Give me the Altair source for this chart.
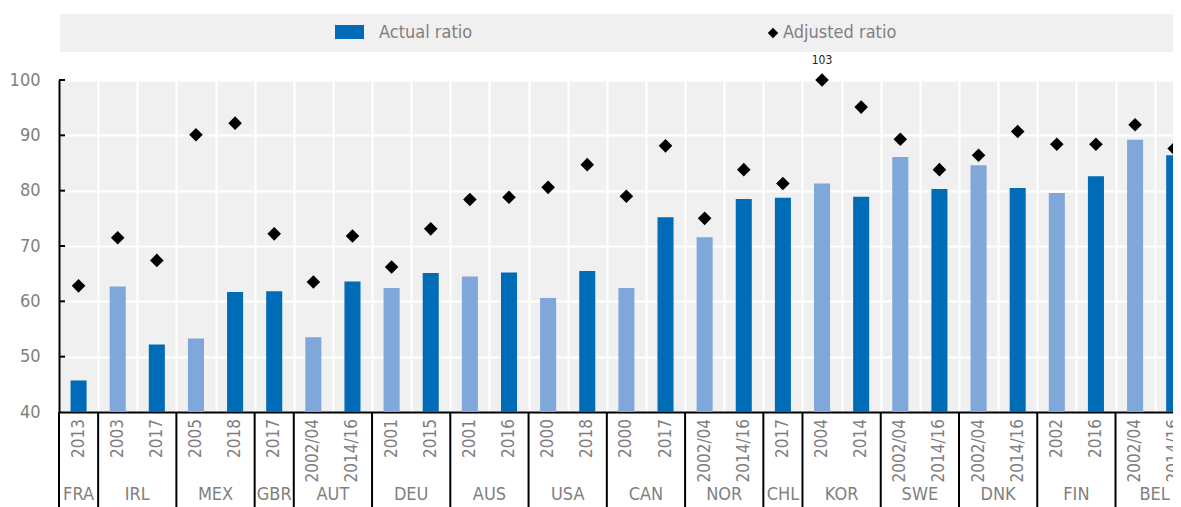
import altair as alt
import pandas as pd

# ---- data ----
countries = ["FRA", "IRL", "MEX", "GBR", "AUT", "DEU", "AUS", "USA",
             "CAN", "NOR", "CHL", "KOR", "SWE", "DNK", "FIN", "BEL"]
country_years = [
    ["2013"], ["2003", "2017"], ["2005", "2018"], ["2017"],
    ["2002/04", "2014/16"], ["2001", "2015"], ["2001", "2016"], ["2000", "2018"],
    ["2000", "2017"], ["2002/04", "2014/16"], ["2017"], ["2004", "2014"],
    ["2002/04", "2014/16"], ["2002/04", "2014/16"], ["2002", "2016"], ["2002/04", "2014/16"],
]
actual = [45.7, 62.7, 52.2, 53.3, 61.7, 61.8, 53.5, 63.6, 62.4, 65.1, 64.5, 65.2,
          60.6, 65.5, 62.4, 75.2, 71.6, 78.5, 78.7, 81.3, 78.9, 86.1, 80.3, 84.6,
          80.5, 79.6, 82.6, 89.2, 86.4]
adjusted = [62.8, 71.5, 67.4, 90.1, 92.2, 72.2, 63.5, 71.8, 66.2, 73.1, 78.4, 78.8,
            80.6, 84.7, 79.0, 88.1, 75.0, 83.8, 81.3, 103.0, 95.1, 89.3, 83.8, 86.4,
            90.7, 88.4, 88.4, 91.9, 87.6]
legend_labels = ["Actual ratio", "Adjusted ratio"]
y_ticks = [40, 50, 60, 70, 80, 90, 100]

DARK = "#006BB6"
LIGHT = "#7FA7D9"
GREY = "#7f7f7f"
BG = "#f0f0f0"
FONT = "'Liberation Sans Narrow', 'Arial Narrow', 'DejaVu Sans Condensed', sans-serif"
FS = 17

# ---- tables ----
rows = []
crow = []
i = 0
for c, yrs in zip(countries, country_years):
    start = i
    for k, yr in enumerate(yrs):
        phase = "early" if (len(yrs) == 2 and k == 0) else "late"
        rows.append({"i": i, "country": c, "year": yr, "phase": phase,
                     "actual": actual[i], "adjusted": adjusted[i]})
        i += 1
    crow.append({"country": c, "start": start, "end": i, "mid": (start + i) / 2})
bars = pd.DataFrame(rows)
cdf = pd.DataFrame(crow)

W, H = 1114, 332
BAND = 39.13
xscale = alt.Scale(domain=[0, W / BAND], nice=False, zero=False)
yscale = alt.Scale(domain=[40, 100], nice=False, zero=False, clamp=True)

ax_x = alt.Axis(values=list(range(len(actual))), labels=False, ticks=False,
                domain=True, domainColor="black", domainWidth=2,
                grid=True, gridColor="white", gridWidth=2, title=None)
ax_y = alt.Axis(values=y_ticks, labelFont=FONT, labelFontSize=FS + 1,
                labelColor=GREY, ticks=False, labelPadding=19,
                domain=True, domainColor="black", domainWidth=2,
                grid=True, gridColor="white", gridWidth=2, title=None)


def X(f):
    return alt.X(f, scale=xscale, axis=ax_x, title=None)


def Y(f):
    return alt.Y(f, scale=yscale, axis=ax_y, title=None)


base = alt.Chart(bars)

bar_layer = base.mark_bar(clip=True).transform_calculate(
    x0="datum.i + 0.295", x1="datum.i + 0.705"
).encode(
    x=X("x0:Q"),
    x2="x1:Q",
    y=Y("actual:Q"),
    y2=alt.Y2(datum=40),
    color=alt.Color("phase:N", scale=alt.Scale(domain=["early", "late"],
                                               range=[LIGHT, DARK]), legend=None),
)

pts = base.mark_point(shape="diamond", filled=True, color="black", size=185,
                      opacity=1).transform_calculate(xc="datum.i + 0.5").encode(
    x=X("xc:Q"),
    y=Y("adjusted:Q"),
)

over = base.mark_text(fontSize=12, font=FONT, color="#222222", dy=-20).transform_filter(
    "datum.adjusted > 100").transform_calculate(
    xc="datum.i + 0.5", yv="100", lab="format(datum.adjusted, '.0f')").encode(
    x=X("xc:Q"),
    y=Y("yv:Q"),
    text="lab:N",
)

years_layer = base.mark_text(angle=270, align="right", baseline="middle",
                             fontSize=FS, font=FONT, color=GREY).transform_calculate(
    xc="datum.i + 0.5").encode(
    x=X("xc:Q"),
    y=alt.value(H + 7),
    text="year:N",
)

country_layer = alt.Chart(cdf).mark_text(align="center", baseline="alphabetic",
                                         fontSize=FS + 1, font=FONT, color=GREY).encode(
    x=X("mid:Q"),
    y=alt.value(H + 88),
    text="country:N",
)

sep_layer = alt.Chart(cdf).mark_rule(color="black", strokeWidth=2).encode(
    x=X("start:Q"),
    y=alt.value(H),
    y2=alt.value(H + 96),
)

tick_df = pd.DataFrame({"v": y_ticks[1:]})
tick_layer = alt.Chart(tick_df).mark_rule(color="black", strokeWidth=2).encode(
    x=alt.value(0), x2=alt.value(6),
    y=Y("v:Q"),
)

# ---- legend band ----
one = pd.DataFrame({"k": [0]})
leg_bg = alt.Chart(one).mark_rect(color=BG).encode(
    x=alt.value(1), x2=alt.value(W), y=alt.value(-66), y2=alt.value(-28))
leg_sw = alt.Chart(one).mark_rect(color=DARK).encode(
    x=alt.value(276), x2=alt.value(305), y=alt.value(-55), y2=alt.value(-41))
leg_dm = alt.Chart(one).mark_point(shape="diamond", filled=True, color="black",
                                   size=110, opacity=1).encode(
    x=alt.value(714), y=alt.value(-47))
leg_t1 = alt.Chart(one).mark_text(align="left", baseline="middle", fontSize=FS + 1,
                                  font=FONT, color=GREY, text=legend_labels[0]).encode(
    x=alt.value(320), y=alt.value(-47))
leg_t2 = alt.Chart(one).mark_text(align="left", baseline="middle", fontSize=FS + 1,
                                  font=FONT, color=GREY, text=legend_labels[1]).encode(
    x=alt.value(724), y=alt.value(-47))

chart = alt.layer(
    bar_layer, tick_layer, sep_layer, pts, over, years_layer, country_layer,
    leg_bg, leg_sw, leg_dm, leg_t1, leg_t2,
).properties(
    width=W, height=H,
    autosize=alt.AutoSizeParams(type="none"),
    padding={"left": 51, "top": 72, "right": 0, "bottom": 95},
    background="white",
).configure_view(
    fill=BG, stroke=None,
)

chart.save("out.html", embed_options={"renderer": "svg", "actions": False})
